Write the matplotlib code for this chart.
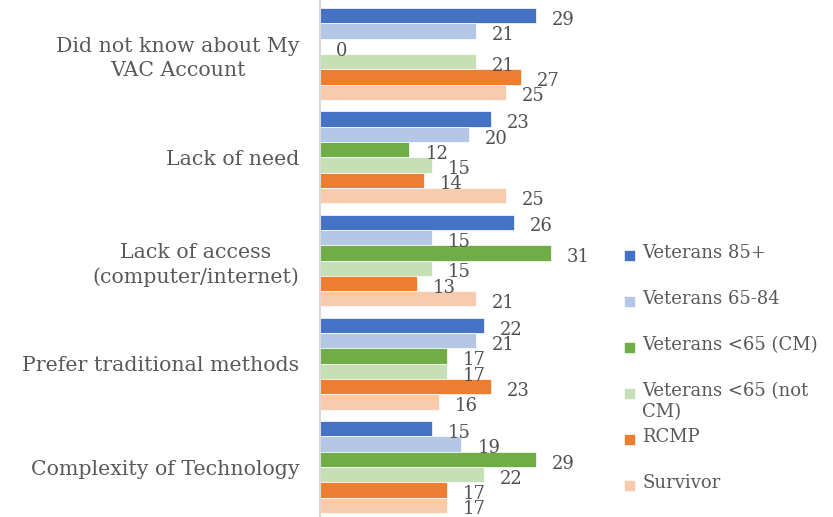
import numpy as np
import matplotlib.pyplot as plt
from matplotlib.patches import Rectangle

categories = ["Did not know about My\nVAC Account", "Lack of need",
              "Lack of access\n(computer/internet)", "Prefer traditional methods",
              "Complexity of Technology"]
series_names = ["Veterans 85+", "Veterans 65-84", "Veterans <65 (CM)",
                "Veterans <65 (not\nCM)", "RCMP", "Survivor"]
vet_85 = [29, 23, 26, 22, 15]
vet_65_84 = [21, 20, 15, 21, 19]
vet_u65_cm = [0, 12, 31, 17, 29]
vet_u65_notcm = [21, 15, 15, 17, 22]
rcmp = [27, 14, 13, 23, 17]
survivor = [25, 25, 21, 16, 17]

values = [vet_85, vet_65_84, vet_u65_cm, vet_u65_notcm, rcmp, survivor]
colors = ["#4472C4", "#B4C7E7", "#70AD47", "#C5E0B4", "#ED7D31", "#F8CBAD"]

plt.rcParams['font.family'] = ['DejaVu Serif']
txt_color = "#595959"
fs = 13

fig = plt.figure(figsize=(8.33, 5.17), dpi=100)
ax = fig.add_axes([320 / 833, 0, 268 / 833, 1])

y = np.arange(len(categories))
h = 0.148
for j, (vals, c) in enumerate(zip(values, colors)):
    pos = y + (j - 2.5) * h
    ax.barh(pos, vals, height=h, color=c, edgecolor='white', linewidth=0.5)
    for p, v in zip(pos, vals):
        ax.annotate(str(v), (v, p), xytext=(11.5, -3), textcoords='offset points',
                    ha='left', va='center', fontsize=fs, color='#505050')

ax.set_xlim(0, 36)
ax.set_ylim(4.484, -0.523)
ax.set_yticks(y)
ax.set_yticklabels(categories, fontsize=14.8, color=txt_color, ha='right',
                   multialignment='center', linespacing=1.35)
ax.tick_params(axis='y', length=0, pad=15)
ax.set_xticks([])
for s in ['top', 'right', 'bottom']:
    ax.spines[s].set_visible(False)
ax.spines['left'].set_color('#D9D9D9')
ax.spines['left'].set_linewidth(1.5)

# legend
ytop = 255
for i, (name, c) in enumerate(zip(series_names, colors)):
    yc = ytop + 46 * i
    fig.patches.append(Rectangle((625 / 833, 1 - (yc + 4.5) / 517), 9 / 833, 9 / 517,
                                 transform=fig.transFigure, color=c))
    fig.text(642 / 833, 1 - (yc - 11) / 517, name, fontsize=fs, color=txt_color,
             va='top', ha='left', linespacing=1.2)

fig.savefig("out.png", dpi=100)
